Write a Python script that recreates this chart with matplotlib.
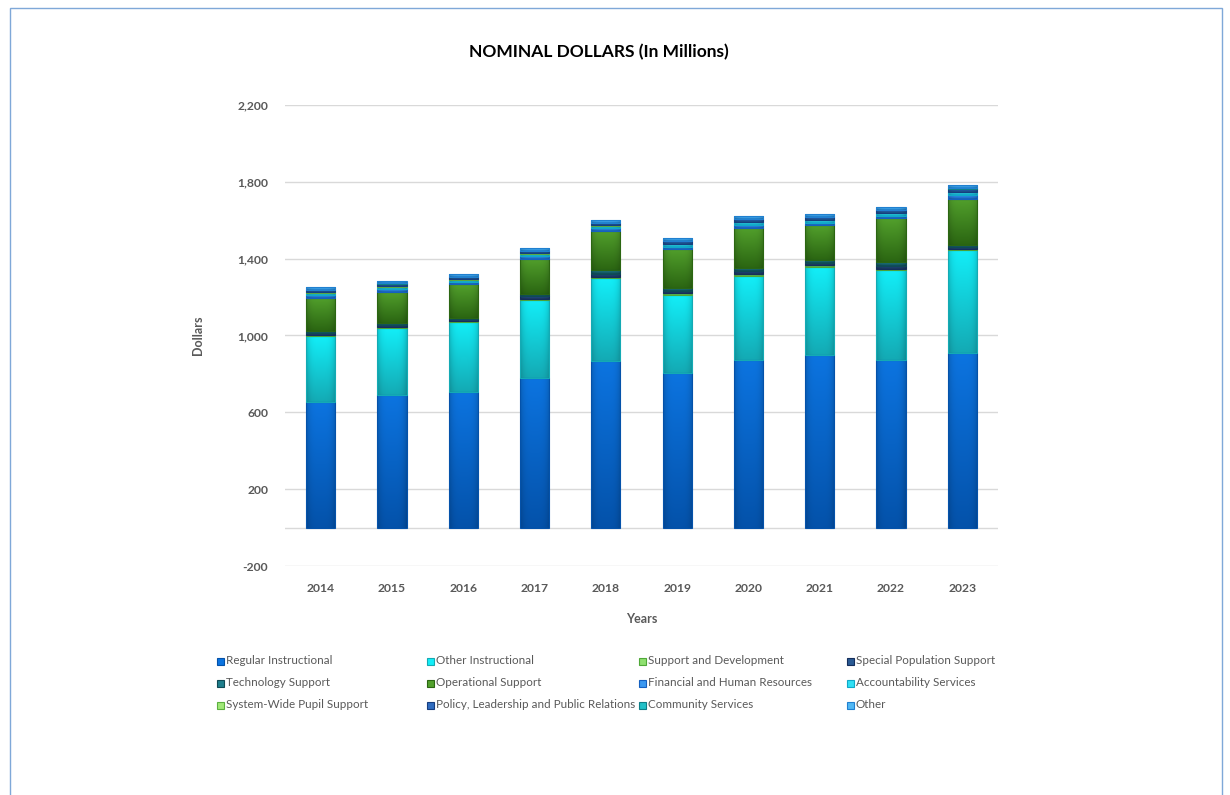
import numpy as np
import matplotlib
matplotlib.use("Agg")
import matplotlib.pyplot as plt
from matplotlib.colors import to_rgb
from matplotlib.patches import Rectangle

plt.rcParams['font.family'] = ['Lato', 'DejaVu Sans']

years = ['2014', '2015', '2016', '2017', '2018', '2019', '2020', '2021', '2022', '2023']

# spending by category, millions of dollars
regular_instructional = [656, 691, 705, 778, 868, 807, 873, 899, 873, 907]
other_instructional = [341, 347, 367, 406, 429, 403, 436, 458, 467, 537]
support_development = [4, 4, 3, 5, 5, 10, 10, 8, 8, 6]
special_population = [12, 12, 10, 14, 20, 13, 16, 14, 16, 10]
technology_support = [10, 10, 8, 11, 18, 12, 14, 13, 16, 10]
operational_support = [172, 164, 173, 183, 205, 204, 213, 182, 229, 243]
financial_hr = [14, 14, 13, 15, 14, 14, 15, 14, 15, 17]
accountability = [12, 12, 11, 12, 11, 12, 12, 12, 13, 15]
system_wide_pupil = [3, 3, 3, 3, 3, 3, 3, 3, 3, 4]
policy_leadership = [12, 12, 11, 12, 12, 12, 12, 12, 12, 14]
community_services = [3, 3, 3, 3, 3, 3, 3, 3, 3, 4]
other = [13, 13, 11, 14, 12, 12, 14, 13, 14, 15]

series = [
    ('Regular Instructional', regular_instructional, '#0c74e0', '#0452aa'),
    ('Other Instructional', other_instructional, '#12eef8', '#14aab4'),
    ('Support and Development', support_development, '#8fe070', '#4fa838'),
    ('Special Population Support', special_population, '#2a5a94', '#152e5c'),
    ('Technology Support', technology_support, '#1e7e8c', '#0f4a55'),
    ('Operational Support', operational_support, '#52a02c', '#2b6612'),
    ('Financial and Human Resources', financial_hr, '#3a98f0', '#1560c0'),
    ('Accountability Services', accountability, '#30e0f4', '#10a8c8'),
    ('System-Wide Pupil Support', system_wide_pupil, '#a0e878', '#5cb040'),
    ('Policy, Leadership and Public Relations', policy_leadership, '#2f6cc0', '#163e80'),
    ('Community Services', community_services, '#22c0c8', '#0e7e88'),
    ('Other', other, '#50b8f4', '#2080d0'),
]

fig = plt.figure(figsize=(12.3, 7.95), dpi=100)
ax = fig.add_axes([0.2317, 0.288, 0.5797, 0.580])

x = np.arange(len(years))
bottom = np.zeros(len(years))


def shade(bars, top_col, bot_col):
    # light-to-dark fill with darker side edges inside each bar segment
    c1 = np.array(to_rgb(top_col))
    c2 = np.array(to_rgb(bot_col))
    t = np.linspace(0, 1, 64)[:, None, None]
    vert = c1 * (1 - t) + c2 * t
    u = np.linspace(-1, 1, 32)[None, :, None]
    side = 1 - 0.18 * np.abs(u) ** 4
    grad = np.clip(vert * side, 0, 1)
    for p in bars:
        x0, y0 = p.get_x(), p.get_y()
        w, h = p.get_width(), p.get_height()
        im = ax.imshow(grad, extent=(x0, x0 + w, y0, y0 + h), aspect='auto',
                       origin='upper', zorder=2, interpolation='bilinear')
        im.set_clip_path(p)


for name, vals, c_top, c_bot in series:
    vals = np.array(vals, dtype=float)
    bars = ax.bar(x, vals, 0.41, bottom=bottom, color=c_bot,
                  edgecolor=c_bot, linewidth=0.8, zorder=3)
    for p in bars:
        p.set_facecolor('none')
    shade(bars, c_top, c_bot)
    bottom += vals

ax.set_xlim(-0.5, len(years) - 0.5)
ax.set_ylim(-200, 2200)
ax.set_yticks(np.arange(-200, 2201, 400))
ax.set_yticklabels([f'{v:,}' for v in range(-200, 2201, 400)])
ax.set_xticks(x)
ax.set_xticklabels(years)
ax.yaxis.grid(True, color='#d9d9d9', linewidth=1)
ax.axhline(0, color='#d9d9d9', linewidth=1, zorder=1)
ax.set_axisbelow(True)
for s in ax.spines.values():
    s.set_visible(False)
ax.tick_params(length=0, labelsize=8.7, labelcolor='#595959', pad=12)
for lab in ax.get_xticklabels() + ax.get_yticklabels():
    lab.set_fontweight('bold')

ax.set_xlabel('Years', fontsize=9, fontweight='bold', color='#595959', labelpad=14)
ax.set_ylabel('Dollars', fontsize=9, fontweight='bold', color='#595959', labelpad=24)

fig.text(0.487, 0.935, 'NOMINAL DOLLARS (In Millions)', ha='center', va='center',
         fontsize=12.5, fontweight='bold', color='black')

# legend laid out in rows of four, read left to right
col_x = [218, 428, 640, 848]
row_y = [661, 683, 705]
W, H = 1230, 795
for i, (name, vals, c_top, c_bot) in enumerate(series):
    cx = col_x[i % 4]
    cy = row_y[i // 4]
    fig.patches.append(Rectangle(((cx - 1) / W, 1 - (cy + 3.5) / H), 7 / W, 7 / H,
                                 transform=fig.transFigure, facecolor=c_top,
                                 edgecolor=c_bot, linewidth=0.8))
    fig.text((cx + 8) / W, 1 - cy / H, name, ha='left', va='center',
             fontsize=8.4, color='#595959')

# outer frame
fig.patches.append(Rectangle((10 / W, -0.05), 1212 / W, 1.05 - 8 / H,
                             transform=fig.transFigure, facecolor='none',
                             edgecolor='#7fa8d8', linewidth=1))

fig.savefig('out.png', dpi=100)
